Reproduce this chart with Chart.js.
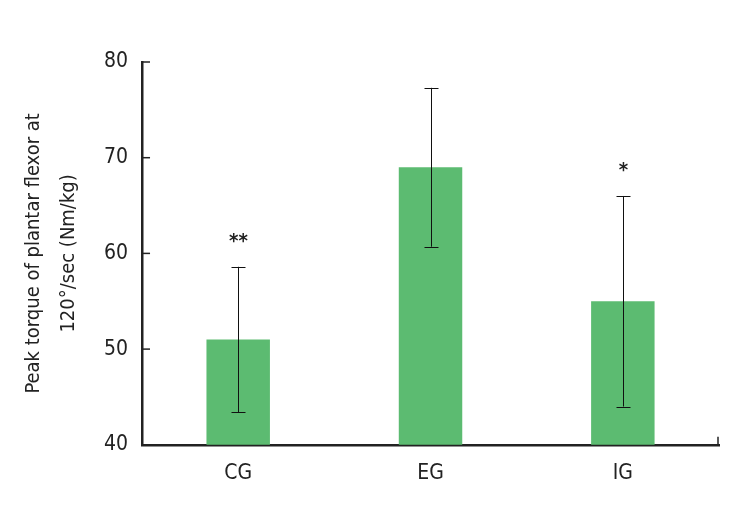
<!DOCTYPE html>
<html>
<head>
<meta charset="utf-8">
<script src="https://cdn.jsdelivr.net/npm/chart.js@4.4.0/dist/chart.umd.min.js"></script>
<style>
  html, body { margin: 0; padding: 0; background: #fff; }
  #wrap { width: 743px; height: 516px; }
</style>
</head>
<body>
<div id="wrap"><canvas id="chart" width="743" height="516"></canvas></div>
<script>
var groups = ["CG", "EG", "IG"];
var means = [51.0, 69.0, 55.0];
var sds = [7.6, 8.3, 11.0];
var marks = ["**", "", "*"];
var yTicks = [40, 50, 60, 70, 80];

var fontFam = "'Liberation Sans Narrow', 'DejaVu Sans Condensed', 'Liberation Sans', sans-serif";

// error bars, significance marks and inward tick marks
var extras = {
    id: 'extras',
    afterDatasetsDraw: function (chart) {
        var ctx = chart.ctx;
        var x = chart.scales.x, y = chart.scales.y;
        ctx.save();
        ctx.strokeStyle = '#111';
        ctx.lineWidth = 1;
        groups.forEach(function (g, i) {
            var cx = Math.round(x.getPixelForValue(i)) + 0.5;
            var top = y.getPixelForValue(means[i] + sds[i]);
            var bot = y.getPixelForValue(means[i] - sds[i]);
            ctx.beginPath();
            ctx.moveTo(cx, top); ctx.lineTo(cx, bot);
            ctx.moveTo(cx - 7, Math.round(top) + 0.5); ctx.lineTo(cx + 7, Math.round(top) + 0.5);
            ctx.moveTo(cx - 7, Math.round(bot) + 0.5); ctx.lineTo(cx + 7, Math.round(bot) + 0.5);
            ctx.stroke();
            if (marks[i]) {
                ctx.fillStyle = '#222';
                ctx.font = "bold 20px " + fontFam;
                ctx.textAlign = 'center';
                ctx.textBaseline = 'middle';
                ctx.fillText(marks[i], cx, top - 25);
            }
        });
        // inward ticks on y axis
        ctx.strokeStyle = '#222';
        ctx.lineWidth = 1.5;
        var left = chart.chartArea.left;
        yTicks.forEach(function (v) {
            var py = y.getPixelForValue(v);
            ctx.beginPath();
            ctx.moveTo(left, py); ctx.lineTo(left + 8, py);
            ctx.stroke();
        });
        // small tick at right end of x axis
        var right = chart.chartArea.right, bottom = chart.chartArea.bottom;
        ctx.beginPath();
        ctx.moveTo(right - 1, bottom); ctx.lineTo(right - 1, bottom - 8);
        ctx.stroke();
        ctx.restore();
    }
};

new Chart(document.getElementById("chart"), {
    type: 'bar',
    data: {
        labels: groups,
        datasets: [{
            data: means,
            backgroundColor: "#5cbb71",
            categoryPercentage: 0.33,
            barPercentage: 1.0
        }]
    },
    options: {
        responsive: false,
        animation: false,
        layout: { padding: { top: 62, right: 24, bottom: 14, left: 16 } },
        plugins: {
            legend: { display: false },
            tooltip: { enabled: false }
        },
        scales: {
            x: {
                grid: { display: false, drawTicks: false },
                border: { display: true, color: '#222', width: 2.5 },
                ticks: { color: '#222', padding: 16, font: { family: fontFam, size: 21 } }
            },
            y: {
                min: 40, max: 80,
                afterBuildTicks: function (axis) {
                    axis.ticks = yTicks.map(function (v) { return { value: v }; });
                },
                grid: { display: false, drawTicks: false },
                border: { display: true, color: '#222', width: 2.5 },
                ticks: { color: '#222', padding: 14, font: { family: fontFam, size: 21 } },
                title: {
                    display: true,
                    text: ["Peak torque of plantar flexor at", "120°/sec (Nm/kg)"],
                    color: '#222',
                    font: { family: fontFam, size: 20, lineHeight: 1.75 },
                    padding: { top: 0, bottom: 4 }
                }
            }
        }
    },
    plugins: [extras]
});
</script>
</body>
</html>
